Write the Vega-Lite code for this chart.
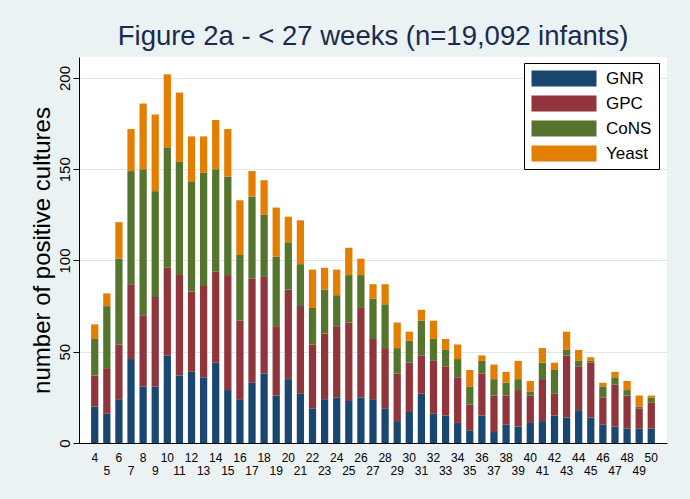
{
  "$schema": "https://vega.github.io/schema/vega-lite/v6.json",
  "width": 588,
  "height": 386,
  "autosize": "none",
  "padding": {"left": 79, "top": 57, "right": 23, "bottom": 56},
  "background": "#eaf2f3",
  "title": {
    "text": "Figure 2a - < 27 weeks (n=19,092 infants)",
    "frame": "group",
    "anchor": "middle",
    "font": "Liberation Sans",
    "fontSize": 27.5,
    "fontWeight": "normal",
    "color": "#1c2a4e",
    "baseline": "alphabetic",
    "offset": -15
  },
  "data": {
    "values": [
      {"week": 4, "GNR": 20, "GPC": 17, "CoNS": 20, "Yeast": 8},
      {"week": 5, "GNR": 16, "GPC": 25, "CoNS": 34, "Yeast": 7},
      {"week": 6, "GNR": 24, "GPC": 30, "CoNS": 47, "Yeast": 20},
      {"week": 7, "GNR": 46, "GPC": 41, "CoNS": 62, "Yeast": 23},
      {"week": 8, "GNR": 31, "GPC": 39, "CoNS": 80, "Yeast": 36},
      {"week": 9, "GNR": 31, "GPC": 49, "CoNS": 58, "Yeast": 42},
      {"week": 10, "GNR": 48, "GPC": 48, "CoNS": 66, "Yeast": 40},
      {"week": 11, "GNR": 37, "GPC": 55, "CoNS": 62, "Yeast": 38},
      {"week": 12, "GNR": 39, "GPC": 44, "CoNS": 60, "Yeast": 25},
      {"week": 13, "GNR": 36, "GPC": 50, "CoNS": 62, "Yeast": 20},
      {"week": 14, "GNR": 44, "GPC": 50, "CoNS": 56, "Yeast": 27},
      {"week": 15, "GNR": 29, "GPC": 63, "CoNS": 54, "Yeast": 26},
      {"week": 16, "GNR": 24, "GPC": 43, "CoNS": 36, "Yeast": 30},
      {"week": 17, "GNR": 33, "GPC": 57, "CoNS": 45, "Yeast": 14},
      {"week": 18, "GNR": 38, "GPC": 53, "CoNS": 34, "Yeast": 19},
      {"week": 19, "GNR": 26, "GPC": 38, "CoNS": 38, "Yeast": 27},
      {"week": 20, "GNR": 35, "GPC": 49, "CoNS": 26, "Yeast": 14},
      {"week": 21, "GNR": 27, "GPC": 48, "CoNS": 23, "Yeast": 24},
      {"week": 22, "GNR": 19, "GPC": 35, "CoNS": 20, "Yeast": 21},
      {"week": 23, "GNR": 24, "GPC": 36, "CoNS": 24, "Yeast": 12},
      {"week": 24, "GNR": 25, "GPC": 39, "CoNS": 17, "Yeast": 14},
      {"week": 25, "GNR": 23, "GPC": 43, "CoNS": 26, "Yeast": 15},
      {"week": 26, "GNR": 25, "GPC": 49, "CoNS": 18, "Yeast": 9},
      {"week": 27, "GNR": 24, "GPC": 33, "CoNS": 22, "Yeast": 8},
      {"week": 28, "GNR": 19, "GPC": 33, "CoNS": 24, "Yeast": 11},
      {"week": 29, "GNR": 12, "GPC": 26, "CoNS": 14, "Yeast": 14},
      {"week": 30, "GNR": 17, "GPC": 27, "CoNS": 12, "Yeast": 5},
      {"week": 31, "GNR": 27, "GPC": 21, "CoNS": 19, "Yeast": 6},
      {"week": 32, "GNR": 16, "GPC": 29, "CoNS": 12, "Yeast": 10},
      {"week": 33, "GNR": 15, "GPC": 27, "CoNS": 9, "Yeast": 6},
      {"week": 34, "GNR": 11, "GPC": 25, "CoNS": 10, "Yeast": 8},
      {"week": 35, "GNR": 7, "GPC": 14, "CoNS": 10, "Yeast": 9},
      {"week": 36, "GNR": 15, "GPC": 23, "CoNS": 7, "Yeast": 3},
      {"week": 37, "GNR": 6, "GPC": 20, "CoNS": 9, "Yeast": 8},
      {"week": 38, "GNR": 10, "GPC": 16, "CoNS": 7, "Yeast": 6},
      {"week": 39, "GNR": 9, "GPC": 20, "CoNS": 6, "Yeast": 10},
      {"week": 40, "GNR": 11, "GPC": 15, "CoNS": 2, "Yeast": 6},
      {"week": 41, "GNR": 12, "GPC": 23, "CoNS": 9, "Yeast": 8},
      {"week": 42, "GNR": 15, "GPC": 12, "CoNS": 13, "Yeast": 4},
      {"week": 43, "GNR": 14, "GPC": 34, "CoNS": 3, "Yeast": 10},
      {"week": 44, "GNR": 18, "GPC": 24, "CoNS": 3, "Yeast": 6},
      {"week": 45, "GNR": 14, "GPC": 30, "CoNS": 1, "Yeast": 2},
      {"week": 46, "GNR": 10, "GPC": 15, "CoNS": 6, "Yeast": 2},
      {"week": 47, "GNR": 9, "GPC": 23, "CoNS": 4, "Yeast": 3},
      {"week": 48, "GNR": 8, "GPC": 18, "CoNS": 3, "Yeast": 5},
      {"week": 49, "GNR": 8, "GPC": 11, "CoNS": 1, "Yeast": 6},
      {"week": 50, "GNR": 8, "GPC": 14, "CoNS": 3, "Yeast": 1}
    ]
  },
  "transform": [
    {"fold": ["GNR", "GPC", "CoNS", "Yeast"], "as": ["type", "n"]},
    {"lookup": "type", "from": {"data": {"values": [
      {"type": "GNR", "ord": 1}, {"type": "GPC", "ord": 2}, {"type": "CoNS", "ord": 3}, {"type": "Yeast", "ord": 4}
    ]}, "key": "type", "fields": ["ord"]}}
  ],
  "mark": {"type": "bar"},
  "encoding": {
    "x": {
      "field": "week",
      "type": "ordinal",
      "scale": {"paddingInner": 0.4, "paddingOuter": 1.6},
      "axis": {
        "title": null,
        "labelAngle": 0,
        "ticks": false,
        "grid": false,
        "domainColor": "#000000",
        "domainWidth": 1,
        "labelFont": "Liberation Sans",
        "labelFontSize": 12,
        "labelColor": "#000000",
        "labelPadding": 9,
        "labelBaseline": "top",
        "labelLineHeight": 13,
        "labelOverlap": false,
        "labelExpr": "datum.value % 2 == 0 ? datum.label : ['', datum.label]"
      }
    },
    "y": {
      "field": "n",
      "type": "quantitative",
      "aggregate": "sum",
      "stack": "zero",
      "scale": {"domain": [0, 211.5], "nice": false, "zero": true},
      "axis": {
        "title": "number of positive cultures",
        "values": [0, 50, 100, 150, 200],
        "grid": true,
        "gridColor": "#dde8ec",
        "gridWidth": 1,
        "domainColor": "#000000",
        "tickColor": "#000000",
        "tickSize": 6,
        "labelAngle": 270,
        "labelFont": "Liberation Sans",
        "labelFontSize": 15,
        "labelColor": "#000000",
        "labelPadding": 1,
        "titleFont": "Liberation Sans",
        "titleFontSize": 24,
        "titleFontWeight": "normal",
        "titleColor": "#000000",
        "titlePadding": 3
      }
    },
    "color": {
      "field": "type",
      "type": "nominal",
      "scale": {"domain": ["GNR", "GPC", "CoNS", "Yeast"], "range": ["#1a476f", "#90353b", "#55752f", "#e37e00"]},
      "legend": {
        "title": null,
        "orient": "none",
        "legendX": 445,
        "legendY": 6,
        "strokeColor": "#000000",
        "fillColor": "#ffffff",
        "padding": 7,
        "symbolType": "M-1,-1H7.125V1H-1Z",
        "symbolSize": 256,
        "symbolStrokeWidth": 0,
        "symbolOpacity": 1,
        "rowPadding": 7,
        "labelOffset": 58,
        "labelFont": "Liberation Sans",
        "labelFontSize": 17,
        "labelColor": "#000000",
        "labelLimit": 200
      }
    },
    "order": {"field": "ord", "type": "quantitative"}
  },
  "config": {
    "view": {"fill": "#ffffff", "stroke": null}
  }
}
